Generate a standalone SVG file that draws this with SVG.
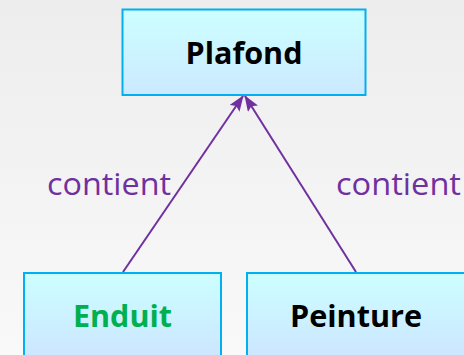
<svg xmlns="http://www.w3.org/2000/svg" width="464" height="355" viewBox="0 0 464 355">
<defs>
<linearGradient id="bg" x1="0" y1="0" x2="0" y2="1">
<stop offset="0" stop-color="#EDEDED"/>
<stop offset="1" stop-color="#F9F9F9"/>
</linearGradient>
<linearGradient id="box" x1="0" y1="0" x2="0" y2="1">
<stop offset="0" stop-color="#CCFFFF"/>
<stop offset="1" stop-color="#CCE9FF"/>
</linearGradient>
<linearGradient id="box2" x1="0" y1="0" x2="0" y2="1">
<stop offset="0" stop-color="#CCFFFF"/>
<stop offset="1" stop-color="#CCE4FF"/>
</linearGradient>
<marker id="arr" viewBox="0 0 16 12" refX="15" refY="6" markerWidth="16" markerHeight="12" markerUnits="userSpaceOnUse" orient="auto">
<path d="M0,0 L16,6 L0,12 L3,6 Z" fill="#7030A0"/>
</marker>
<style>
.node rect{stroke:#00B0F0;stroke-width:2}
.lbl{font-family:"Open Sans","Liberation Sans",sans-serif;font-size:31px;fill:#7030A0}
.name{font-family:"Open Sans","Liberation Sans",sans-serif;font-weight:bold;font-size:30px;text-anchor:middle}
.edge{stroke:#7030A0;stroke-width:2;fill:none}
</style>
</defs>
<rect width="464" height="355" fill="url(#bg)"/>
<g id="connectors">
<line class="edge" x1="123" y1="272" x2="243" y2="96" marker-end="url(#arr)"/>
<line class="edge" x1="356" y1="272" x2="245" y2="96" marker-end="url(#arr)"/>
<text class="lbl" x="47" y="195" textLength="124" lengthAdjust="spacingAndGlyphs">contient</text>
<text class="lbl" x="336" y="195" textLength="125" lengthAdjust="spacingAndGlyphs">contient</text>
</g>
<g id="plafond" class="node">
<rect x="122.5" y="9.5" width="243" height="85.5" fill="url(#box)"/>
<text class="name" x="244" y="64" fill="#000" textLength="117" lengthAdjust="spacingAndGlyphs">Plafond</text>
</g>
<g id="enduit" class="node">
<rect x="24" y="273" width="197" height="90" fill="url(#box2)"/>
<text class="name" x="122.5" y="327" fill="#00B050" textLength="99" lengthAdjust="spacingAndGlyphs">Enduit</text>
</g>
<g id="peinture" class="node">
<rect x="247" y="273" width="230" height="90" fill="url(#box2)"/>
<text class="name" x="356" y="327" fill="#000" textLength="132" lengthAdjust="spacingAndGlyphs">Peinture</text>
</g>
</svg>
